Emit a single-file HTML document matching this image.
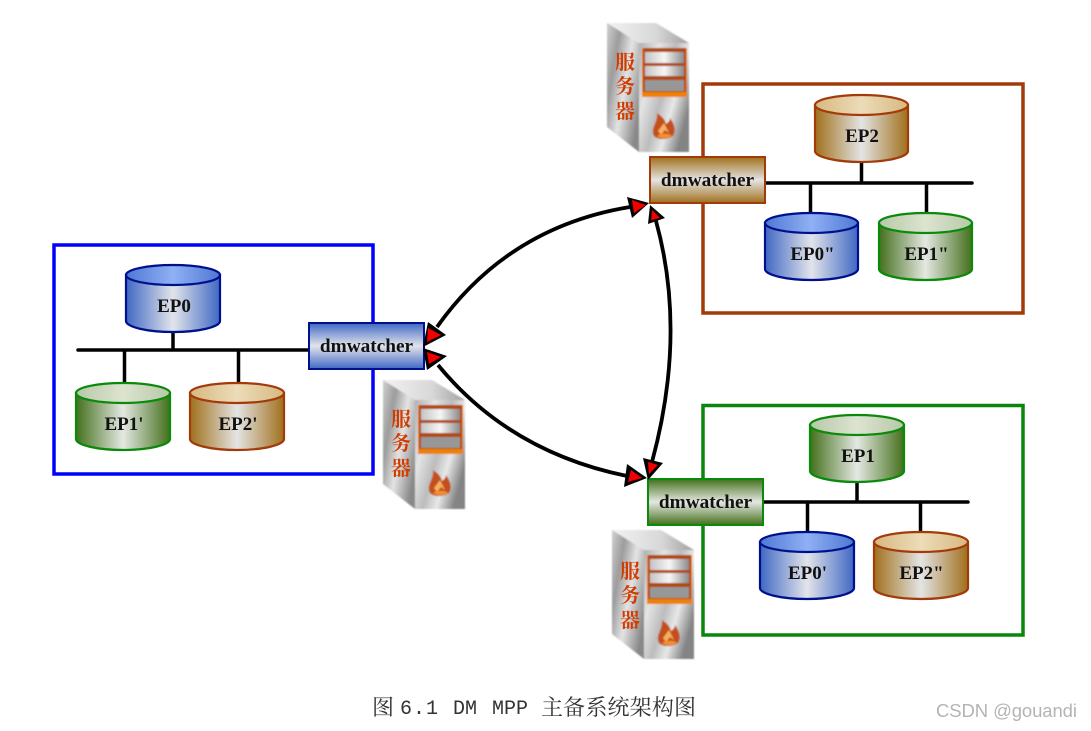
<!DOCTYPE html>
<html><head><meta charset="utf-8"><style>
html,body{margin:0;padding:0;background:#fff;width:1091px;height:731px;overflow:hidden}
svg{display:block}
.l{font-family:"Liberation Serif","Noto Serif CJK SC",serif;font-weight:bold;fill:#111;text-anchor:middle}
.e{font-size:19px}
.d{font-size:19.300px}
.s{font-family:"Noto Serif CJK SC","Noto Sans CJK SC",serif;font-weight:bold;font-size:20px;fill:#d03c00;text-anchor:middle}
</style></head><body>
<svg width="1091" height="731" viewBox="0 0 1091 731" xmlns="http://www.w3.org/2000/svg">
<defs>
<filter id="soft" x="-5%" y="-5%" width="110%" height="110%"><feGaussianBlur stdDeviation="0.7"/></filter>
<linearGradient id="bh"><stop offset="0" stop-color="#3f68c4"/><stop offset=".5" stop-color="#e2e4ea"/><stop offset="1" stop-color="#3f68c4"/></linearGradient>
<linearGradient id="gh"><stop offset="0" stop-color="#44701c"/><stop offset=".5" stop-color="#e4e8e2"/><stop offset="1" stop-color="#44701c"/></linearGradient>
<linearGradient id="oh"><stop offset="0" stop-color="#a0701c"/><stop offset=".5" stop-color="#e4e4e4"/><stop offset="1" stop-color="#a0701c"/></linearGradient>
<linearGradient id="bt"><stop offset="0" stop-color="#4f78d4"/><stop offset=".5" stop-color="#8fb0f4"/><stop offset="1" stop-color="#4f78d4"/></linearGradient>
<linearGradient id="gt"><stop offset="0" stop-color="#b8c8a8"/><stop offset=".5" stop-color="#dce4d0"/><stop offset="1" stop-color="#b8c8a8"/></linearGradient>
<linearGradient id="ot"><stop offset="0" stop-color="#d8b880"/><stop offset=".5" stop-color="#ecdcb8"/><stop offset="1" stop-color="#d8b880"/></linearGradient>
<linearGradient id="bv" x2="0" y2="1"><stop offset="0" stop-color="#3f68c4"/><stop offset=".5" stop-color="#e2e4ea"/><stop offset="1" stop-color="#3f68c4"/></linearGradient>
<linearGradient id="gv" x2="0" y2="1"><stop offset="0" stop-color="#44701c"/><stop offset=".5" stop-color="#e4e8e2"/><stop offset="1" stop-color="#44701c"/></linearGradient>
<linearGradient id="ov" x2="0" y2="1"><stop offset="0" stop-color="#a0701c"/><stop offset=".5" stop-color="#e4e4e4"/><stop offset="1" stop-color="#a0701c"/></linearGradient>
<linearGradient id="sf" x1="0" y1="0" x2="1" y2=".6"><stop offset="0" stop-color="#b0b0b0"/><stop offset=".3" stop-color="#e4e4e4"/><stop offset=".55" stop-color="#bcbcbc"/><stop offset=".75" stop-color="#e8e8e8"/><stop offset="1" stop-color="#848484"/></linearGradient>
<linearGradient id="sl" x1="0" y1="0" x2="1" y2=".7"><stop offset="0" stop-color="#d0d0d0"/><stop offset=".3" stop-color="#9c9c9c"/><stop offset=".6" stop-color="#e4e4e4"/><stop offset="1" stop-color="#888"/></linearGradient>
<linearGradient id="st" x1="0" y1="0" x2="1" y2="0"><stop offset="0" stop-color="#f2f2f2"/><stop offset=".6" stop-color="#d8d8d8"/><stop offset="1" stop-color="#a0a0a0"/></linearGradient>
<linearGradient id="win"><stop offset="0" stop-color="#c4c4c4"/><stop offset=".5" stop-color="#f6f6f6"/><stop offset="1" stop-color="#8c8c8c"/></linearGradient>
<g id="srv">
<g filter="url(#soft)">
<polygon points="0,0 49,0 82,20 32,20" fill="url(#st)"/>
<polygon points="0,0 32,20 32,129 0,104" fill="url(#sl)"/>
<polygon points="32,20 82,20 82,129 32,129" fill="url(#sf)"/>
<rect x="35" y="25" width="45" height="49" fill="#f08000"/>
<rect x="36" y="25" width="43" height="44" fill="#b04a10"/>
<rect x="38" y="29" width="39" height="11" fill="url(#win)"/>
<rect x="38" y="43" width="39" height="10" fill="url(#win)"/>
<rect x="38" y="57" width="39" height="11" fill="#979797"/>
<path d="M47,113C43,105 51,100 50,90C56,94 58,97 59,101C62,99 63,97 63,95C68,102 69,108 66,113C60,117 51,117 47,113Z" fill="#c4501a"/>
<path d="M51,108L57,100L62,110L58,107L54,112Z" fill="#f4b060"/>
<path d="M50,113C54,110 62,110 65,113C60,116 54,116 50,113Z" fill="#f09030"/>
</g>
</g>
</defs>

<rect x="54" y="245" width="319" height="229" fill="none" stroke="#0000ff" stroke-width="3.500"/>
<rect x="703" y="84" width="320" height="229" fill="none" stroke="#a33a0a" stroke-width="3.500"/>
<rect x="703" y="405.500" width="320" height="229.500" fill="none" stroke="#0a860a" stroke-width="3.500"/>

<g stroke="#000" stroke-width="3.500" fill="none" stroke-linecap="round">
<path d="M78,350H312M173,330V350M124.500,350V384M238.500,350V384"/>
<path d="M762,183H972M861.500,160V183M810.500,183V214M926.500,183V214"/>
<path d="M760,502H968M857,480V502M807.500,502V533M920.500,502V533"/>
</g>

<g stroke-width="2.200">
<path d="M126,275V321C126,327 147,332 173,332C199,332 220,327 220,321V275Z" fill="url(#bh)" stroke="#00108c"/><ellipse cx="173" cy="275" rx="47" ry="10" fill="url(#bt)" stroke="#00108c"/>
<path d="M76,393V439C76,445 97,450 123,450C149,450 170,445 170,439V393Z" fill="url(#gh)" stroke="#0a8a0a"/><ellipse cx="123" cy="393" rx="47" ry="10" fill="url(#gt)" stroke="#0a8a0a"/>
<path d="M190,393V439C190,445 211,450 237,450C263,450 284,445 284,439V393Z" fill="url(#oh)" stroke="#a33a0a"/><ellipse cx="237" cy="393" rx="47" ry="10" fill="url(#ot)" stroke="#a33a0a"/>
<path d="M815,105V151C815,157 836,162 861.500,162C887,162 908,157 908,151V105Z" fill="url(#oh)" stroke="#a33a0a"/><ellipse cx="861.500" cy="105" rx="46.500" ry="10" fill="url(#ot)" stroke="#a33a0a"/>
<path d="M765,223V269C765,275 786,280 811.500,280C837,280 858,275 858,269V223Z" fill="url(#bh)" stroke="#00108c"/><ellipse cx="811.500" cy="223" rx="46.500" ry="10" fill="url(#bt)" stroke="#00108c"/>
<path d="M879,223V269C879,275 900,280 925.500,280C951,280 972,275 972,269V223Z" fill="url(#gh)" stroke="#0a8a0a"/><ellipse cx="925.500" cy="223" rx="46.500" ry="10" fill="url(#gt)" stroke="#0a8a0a"/>
<path d="M810,425V471C810,477 831,482 857,482C883,482 904,477 904,471V425Z" fill="url(#gh)" stroke="#0a8a0a"/><ellipse cx="857" cy="425" rx="47" ry="10" fill="url(#gt)" stroke="#0a8a0a"/>
<path d="M760,542V588C760,594 781,599 807,599C833,599 854,594 854,588V542Z" fill="url(#bh)" stroke="#00108c"/><ellipse cx="807" cy="542" rx="47" ry="10" fill="url(#bt)" stroke="#00108c"/>
<path d="M874,542V588C874,594 895,599 921,599C947,599 968,594 968,588V542Z" fill="url(#oh)" stroke="#a33a0a"/><ellipse cx="921" cy="542" rx="47" ry="10" fill="url(#ot)" stroke="#a33a0a"/>
</g>
<text class="l e" x="174" y="312">EP0</text>
<text class="l e" x="124" y="430">EP1'</text>
<text class="l e" x="238" y="430">EP2'</text>
<text class="l e" x="862" y="142">EP2</text>
<text class="l e" x="812.500" y="260">EP0"</text>
<text class="l e" x="926.500" y="260">EP1"</text>
<text class="l e" x="858" y="462">EP1</text>
<text class="l e" x="807.500" y="579">EP0'</text>
<text class="l e" x="921.500" y="579">EP2"</text>

<rect x="309" y="323" width="115" height="46" fill="url(#bv)" stroke="#00108c" stroke-width="2"/>
<rect x="650" y="157" width="115" height="46" fill="url(#ov)" stroke="#a33a0a" stroke-width="2"/>
<rect x="648" y="479" width="115" height="46" fill="url(#gv)" stroke="#0a8a0a" stroke-width="2"/>
<text class="l d" x="366.500" y="352">dmwatcher</text>
<text class="l d" x="707.500" y="186">dmwatcher</text>
<text class="l d" x="705.500" y="508">dmwatcher</text>

<use href="#srv" x="607" y="23"/>
<use href="#srv" x="383" y="380"/>
<use href="#srv" x="612" y="530"/>
<text class="s" x="625" y="69">服</text><text class="s" x="625" y="93">务</text><text class="s" x="625" y="118">器</text>
<text class="s" x="401" y="426">服</text><text class="s" x="401" y="450">务</text><text class="s" x="401" y="475">器</text>
<text class="s" x="630" y="578">服</text><text class="s" x="630" y="602">务</text><text class="s" x="630" y="627">器</text>

<g fill="none" stroke="#000" stroke-width="3.800">
<path d="M437,327Q508,227 630,207"/>
<path d="M438,365Q509.500,452 627,476"/>
<path d="M656,221Q687,333 652,462"/>
</g>
<g fill="#000">
<polygon points="428,322 446,335 423,347"/>
<polygon points="423,348 447,356 427,370"/>
<polygon points="627,197 649,203 632,218"/>
<polygon points="650,205 665,218 648,224"/>
<polygon points="627,464 647,478 624,487"/>
<polygon points="643,458 663,463 648,480"/>
</g>
<g fill="#f40000">
<polygon points="428,328 441,335 427,342"/>
<polygon points="427,352 441,357 429,364"/>
<polygon points="632,200 646,205 634,213"/>
<polygon points="652,210 660,218 651,220"/>
<polygon points="631,470 642,478 628,482"/>
<polygon points="648,462 658,465 649,474"/>
</g>

<g fill="#333" font-size="20" font-family="'Liberation Mono','Noto Serif CJK SC',monospace">
<text x="372" y="715" font-family="'Noto Serif CJK SC',serif" font-size="22">图</text>
<text x="400" y="714" textLength="38">6.1</text>
<text x="453" y="714">DM</text>
<text x="492" y="714">MPP</text>
<text x="541" y="715" font-family="'Noto Serif CJK SC',serif" font-size="22" textLength="155">主备系统架构图</text>
</g>
<text x="936" y="717" font-family="'Liberation Sans',sans-serif" font-size="18.500" fill="#b4b4b4" textLength="141">CSDN @gouandi</text>
</svg>
</body></html>
